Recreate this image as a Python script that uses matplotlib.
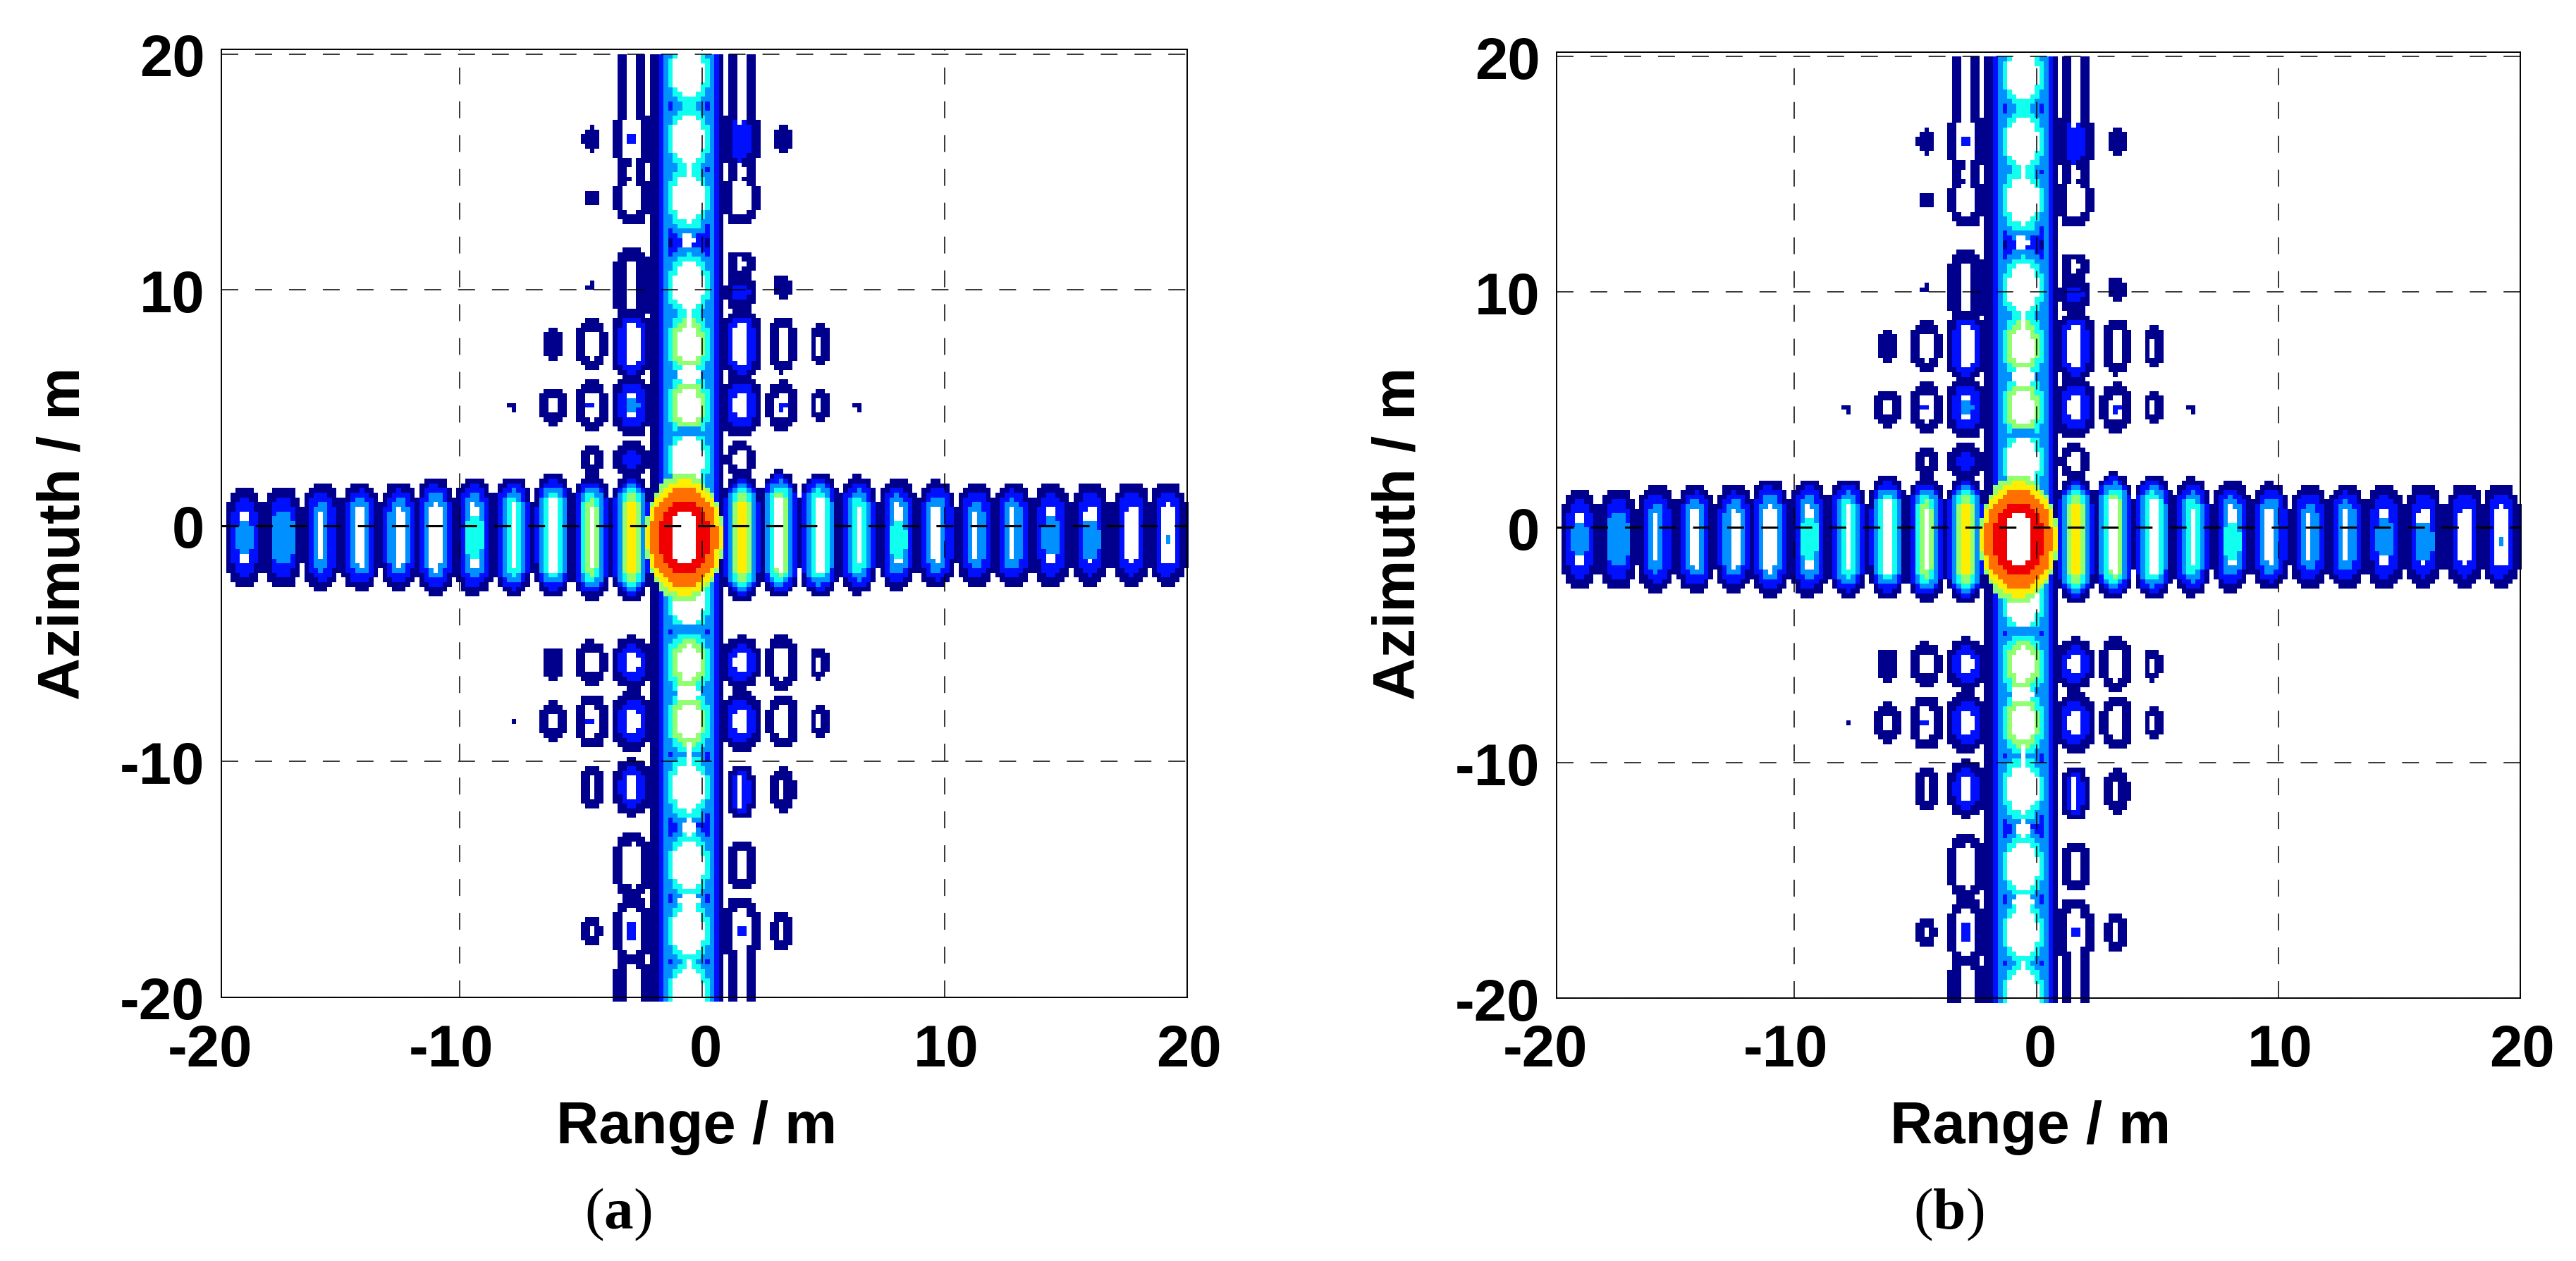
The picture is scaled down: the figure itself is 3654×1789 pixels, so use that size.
import numpy as np
import matplotlib
matplotlib.use('Agg')
import matplotlib.pyplot as plt
from matplotlib.colors import ListedColormap

plt.rcParams['font.family'] = ['Liberation Sans', 'DejaVu Sans']
plt.rcParams['axes.unicode_minus'] = False
plt.rcParams['mathtext.fontset'] = 'custom'
plt.rcParams['mathtext.bf'] = 'Liberation Serif:bold'

W_PX, H_PX = 3655, 1790
# contour colours, low to high
ring_colors = ['#00008C', '#0010FF', '#0090FF', '#10FFEE', '#90FF70', '#FFEE00', '#FF7000', '#F00000']

# lobes along the azimuth cut (range = -0.56)
col_y = [19.2, 16.4, 13.9, 10.15, 7.68, 5.08, 2.8, -3.2, -5.82, -8.3, -11.1, -14.4, -17.2, -19.8]
col_top = [4, 4, 4, 4, 5, 5, 4, 4, 5, 5, 4, 4, 4, 4]
col_core = [0.64, 0.64, 0.64, 0.64, 0.47, 0.47, 0.64, 0.64, 0.47, 0.47, 0.64, 0.64, 0.64, 0.64]

# lobes along the range cut
row_x = [-18.87, -17.3, -15.7, -14.1, -12.5, -11.0, -9.4, -7.8, -6.15, -4.56, -2.93,
         1.63, 3.2, 4.83, 6.45, 8.05, 9.68, 11.3, 12.8, 14.4, 16.0, 17.7, 19.2]
row_y = [-0.5, -0.5, -0.47, -0.47, -0.45, -0.45, -0.45, -0.45, -0.4, -0.5, -0.5,
         -0.5, -0.34, -0.37, -0.4, -0.37, -0.37, -0.37, -0.37, -0.37, -0.37, -0.37, -0.37]
row_top = [2, 2, 3, 3, 3, 3, 3, 4, 4, 5, 6, 6, 5, 4, 4, 3, 3, 3, 3, 2, 2, 2, 2]
row_h = [2.14, 2.2, 2.33, 2.33, 2.33, 2.55, 2.55, 2.55, 2.6, 2.65, 2.7,
         2.7, 2.7, 2.65, 2.55, 2.4, 2.3, 2.27, 2.27, 2.27, 2.27, 2.27, 2.27]
row_core = [0.22, 0.22, 0.06, 0.2, 0.2, 0.2, 0.16, 0.12, 0.2, 0.08, 0.06,
            0.06, 0.16, 0.24, 0.08, 0.18, 0.2, 0.08, 0.14, 0.22, 0.22, 0.22, 0.26]

# weak lobes off the two cuts
side_x = [-2.89, -2.89, -2.89, -2.89, -2.89, -2.89, -2.89, -2.89,
          1.6, 1.6, 1.6, 1.6, 1.6, 1.6, 1.6, 1.6, 1.6,
          -4.56, -4.56, -4.56, -4.56, -4.56, -4.56,
          3.3, 3.3, 3.3, 3.3,
          -6.15, -6.15, 4.85, 4.85, 6.4, -7.8,
          -2.89, -2.89, -2.89, -2.89, -2.89, -2.89,
          1.6, 1.6, 1.6, 1.6, 1.6, 1.6,
          -4.56, -4.56, -4.56, -4.56,
          3.3, 3.3, 3.3, 3.3,
          -6.15, -6.15, 4.85, 4.85, -7.8,
          -20.4, 20.75]
side_y = [19.0, 16.4, 15.0, 13.9, 10.2, 7.68, 5.08, 2.8,
          19.0, 16.4, 15.0, 13.9, 9.9, 11.1, 7.68, 5.08, 2.8,
          16.4, 13.9, 10.15, 7.68, 5.08, 2.8,
          16.4, 10.15, 7.68, 5.08,
          7.68, 5.08, 7.68, 5.08, 5.08, 5.08,
          -5.82, -8.3, -11.1, -14.4, -17.2, -19.6,
          -5.82, -8.3, -11.3, -14.4, -17.2, -19.3,
          -5.82, -8.3, -11.1, -17.2,
          -5.82, -8.3, -11.2, -17.2,
          -5.82, -8.3, -5.82, -8.3, -8.3,
          -0.6, -0.4]
side_top = [1, 1, 1, 1, 1, 2, 2, 2,
            1, 2, 1, 1, 2, 1, 2, 2, 1,
            1, 1, 1, 1, 1, 1,
            1, 1, 1, 1,
            1, 1, 1, 1, 1, 1,
            2, 2, 2, 1, 1, 1,
            2, 2, 2, 1, 1, 1,
            1, 1, 1, 1,
            1, 1, 1, 1,
            1, 1, 1, 1, 1,
            1, 1]
side_w = [0.56, 0.75, 0.55, 0.75, 0.75, 0.82, 0.85, 0.75,
          0.56, 0.75, 0.55, 0.75, 0.7, 0.6, 0.82, 0.85, 0.65,
          0.37, 0.27, 0.2, 0.63, 0.65, 0.47,
          0.38, 0.37, 0.55, 0.7,
          0.38, 0.53, 0.42, 0.42, 0.2, 0.2,
          0.85, 0.85, 0.8, 0.75, 0.75, 0.7,
          0.85, 0.85, 0.55, 0.6, 0.75, 0.6,
          0.63, 0.63, 0.45, 0.45,
          0.63, 0.63, 0.55, 0.45,
          0.45, 0.55, 0.35, 0.35, 0.12,
          0.6, 0.75]
side_h = [2.4, 1.4, 0.8, 1.2, 1.6, 1.55, 1.35, 0.8,
          2.4, 1.4, 0.8, 1.2, 0.8, 0.6, 1.55, 1.35, 0.8,
          0.55, 0.35, 0.25, 1.07, 1.1, 0.65,
          0.6, 0.55, 1.2, 1.05,
          0.7, 0.83, 0.85, 0.7, 0.2, 0.2,
          1.15, 1.3, 1.25, 1.4, 1.5, 1.6,
          1.15, 1.3, 1.2, 1.1, 1.5, 1.6,
          0.95, 1.2, 1.0, 0.6,
          1.2, 1.2, 0.95, 0.8,
          0.7, 0.85, 0.7, 0.7, 0.1,
          0.55, 1.8]
side_core = [0.19, 0.38, 0.18, 0.38, 0.25, 0.3, 0.24, 0.0,
             0.19, 0.0, 0.18, 0.38, 0.0, 0.23, 0.3, 0.26, 0.28,
             0.0, 0.0, 0.0, 0.26, 0.26, 0.1,
             0.0, 0.0, 0.2, 0.3,
             0.0, 0.16, 0.1, 0.1, 0.0, 0.0,
             0.27, 0.27, 0.24, 0.38, 0.38, 0.3,
             0.27, 0.27, 0.12, 0.23, 0.34, 0.23,
             0.26, 0.26, 0.1, 0.08,
             0.26, 0.26, 0.14, 0.08,
             0.07, 0.16, 0.08, 0.08, 0.0,
             0.0, 0.0]

# filled patches drawn last, level 0 is white (main lobe and necks between lobes)
patch_x = [-0.74, -0.74, -0.74, -0.74, -0.74,
           -0.56, -0.56, -0.56, -0.56, -0.56, -0.56, -0.56, -0.56, -0.56, -0.56, -0.56,
           -18.85, -17.3, -9.4, 8.05, 14.4, 16.0, 19.25,
           -2.89, -4.56, -4.56, -2.89, 3.3, -2.89, 1.6]
patch_y = [-0.5, -0.5, -0.5, -0.5, -0.5,
           15.0, 12.1, 8.9, 6.35, 3.95, -4.45, -7.1, -9.7, -12.8, -15.9, -18.6,
           -0.5, -0.5, -0.45, -0.6, -0.45, -0.55, -0.6,
           5.08, 5.08, -8.3, 16.4, 5.08, -17.2, -17.2]
patch_w = [1.62, 1.55, 1.39, 1.05, 0.47,
           0.14, 0.22, 0.14, 0.45, 0.62, 0.62, 0.45, 0.14, 0.25, 0.45, 0.14,
           0.37, 0.48, 0.37, 0.39, 0.39, 0.39, 0.12,
           0.26, 0.2, 0.2, 0.2, 0.2, 0.25, 0.2]
patch_h = [2.72, 2.45, 2.13, 1.6, 1.2,
           0.5, 0.35, 0.5, 0.4, 0.2, 0.2, 0.4, 0.5, 0.35, 0.3, 0.3,
           0.75, 1.1, 0.9, 0.8, 0.82, 0.85, 0.3,
           0.35, 0.1, 0.2, 0.2, 0.2, 0.4, 0.3]
patch_level = [5, 6, 7, 8, 0,
               0, 0, 0, 0, 3, 3, 0, 0, 0, 0, 0,
               3, 3, 4, 4, 3, 3, 3,
               3, 2, 2, 2, 2, 2, 2]

xticks = [-20, -10, 0, 10, 20]
yticks = [-20, -10, 0, 10, 20]
xtick_shift = [-10, -12, 5, 2, 2]  # labels in the figure sit a little off their grid lines

# sampling of the contour raster (about 7 px per cell)
x_edges = np.arange(-19.83, 20.21, 0.19)
y_edges = np.arange(-20.2, 20.01, 0.2)
xc = (x_edges[:-1] + x_edges[1:]) / 2
yc = (y_edges[:-1] + y_edges[1:]) / 2
XX, YY = np.meshgrid(xc, yc)


def lobe_dist(x0, y0, w, h, stretch=1.7):
    # distance from a lobe centre, in range units, vertically stretched
    k = min(stretch, h / w)
    a = h - k * w
    return np.hypot(XX - x0, np.maximum(np.abs(YY - y0) - a, 0) / k)


def ring_bands(d, top, w, core):
    step = (w - core) / top
    band = top - np.floor((d - core) / step)
    band[d >= w] = 0
    band[d < core] = 0
    return band


grid = np.zeros_like(XX)
holes = np.zeros_like(XX, dtype=bool)
for y0, top, core in zip(col_y, col_top, col_core):
    d = lobe_dist(-0.56, y0, 1.52, 2.4)
    grid = np.maximum(grid, ring_bands(d, top, 1.52, core))
    holes |= d < core
for x0, y0, top, h, core in zip(row_x, row_y, row_top, row_h, row_core):
    d = lobe_dist(x0, y0, 0.82, h)
    grid = np.maximum(grid, ring_bands(d, top, 0.82, core))
    holes |= d < core
for x0, y0, top, w, h, core in zip(side_x, side_y, side_top, side_w, side_h, side_core):
    d = lobe_dist(x0, y0, w, h, stretch=1.3)
    grid = np.maximum(grid, ring_bands(d, top, w, core))
    holes |= d < core
grid[holes] = 0
# straight outer walls of the vertical stripe
grid = np.maximum(grid, ring_bands(lobe_dist(-0.56, 0, 1.52, 40), 3, 1.52, 0.86))
for x0, y0, w, h, lev in zip(patch_x, patch_y, patch_w, patch_h, patch_level):
    grid[lobe_dist(x0, y0, w, h) < w] = lev

cmap = ListedColormap(ring_colors)
Z = np.ma.masked_equal(grid, 0)

fig = plt.figure(figsize=(W_PX / 100, H_PX / 100), dpi=100)


def make_axes(left, right, top, bottom):
    return fig.add_axes([left / W_PX, 1 - bottom / H_PX, (right - left) / W_PX, (bottom - top) / H_PX])


panels = [
    (make_axes(314, 1684, 71.4, 1415.7), 988, 877, '(' + r'$\mathbf{a}$' + ')'),
    (make_axes(2208, 3575, 75, 1417.3), 2880, 2764, '(' + r'$\mathbf{b}$' + ')'),
]

for ax, xlabel_px, cap_px, cap in panels:
    ax.pcolormesh(x_edges, y_edges, Z, cmap=cmap, vmin=0.5, vmax=8.5, clip_on=False, zorder=1)
    ax.set_xlim(-19.83, 20)
    ax.set_ylim(-20, 20.19)
    ax.set_xticks(xticks[1:])
    ax.set_yticks(yticks)
    ax.set_xticklabels([])
    ax.tick_params(axis='both', length=0)
    ax.tick_params(axis='y', labelsize=60, pad=17)
    for lab in ax.get_yticklabels():
        lab.set_fontweight('bold')
    ax.set_axisbelow(False)
    ax.grid(True, color='black', linewidth=1.1, linestyle=(0, (15.7, 15.7)))
    # the zero line prints heavier than the others
    ax.get_ygridlines()[2].set_linewidth(2.2)
    ax.get_ygridlines()[2].set_linestyle((0, (7.9, 7.9)))
    for sp in ax.spines.values():
        sp.set_linewidth(1.4)
        sp.set_zorder(3)
    bb = ax.get_position()
    left_px = bb.x0 * W_PX
    scale = bb.width * W_PX / 39.83
    for t, shift in zip(xticks, xtick_shift):
        px = left_px + (t + 19.83) * scale + shift
        fig.text(px / W_PX, 1 - 1513 / H_PX, str(t), fontsize=60, fontweight='bold', ha='center', va='baseline')
    fig.text(xlabel_px / W_PX, 1 - 1622 / H_PX, 'Range / m', fontsize=60, fontweight='bold', ha='center', va='baseline')
    fig.text((left_px - 223) / W_PX, 1 - 757 / H_PX, 'Azimuth / m', fontsize=60, fontweight='bold',
             ha='center', va='center', rotation=90)
    fig.text(cap_px / W_PX, 1 - 1743 / H_PX, cap, fontsize=60, family='Liberation Serif', ha='center', va='baseline')

fig.savefig('out.png', dpi=100)
